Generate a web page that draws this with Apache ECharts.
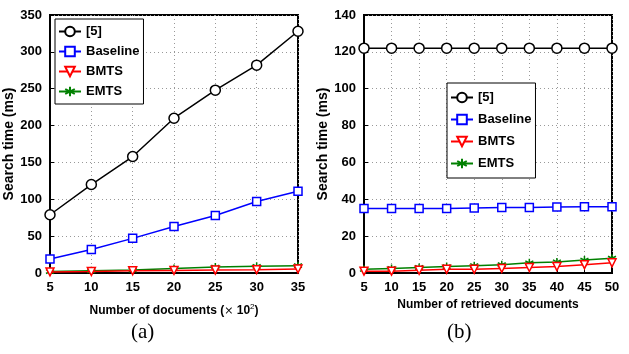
<!DOCTYPE html>
<html><head><meta charset="utf-8">
<script src="https://cdn.jsdelivr.net/npm/echarts@6/dist/echarts.min.js"></script>
<style>html,body{margin:0;padding:0;background:#fff}#c{width:629px;height:354px}</style>
</head><body><div id="c"></div>
<script>
// ---- data ----
const seriesNames = ['[5]', 'Baseline', 'BMTS', 'EMTS'];
const xA = [5, 10, 15, 20, 25, 30, 35];
const a_ref5 = [79, 120, 158, 210, 248, 282, 328];
const a_baseline = [19, 32, 47, 63, 78, 97, 111];
const a_bmts = [1.5, 2, 3, 3.5, 4, 4.5, 5.5];
const a_emts = [2, 3, 4, 6, 8, 9, 10];
const xB = [5, 10, 15, 20, 25, 30, 35, 40, 45, 50];
const b_ref5 = [122, 122, 122, 122, 122, 122, 122, 122, 122, 122];
const b_baseline = [35, 35, 35, 35, 35.3, 35.5, 35.5, 35.8, 36, 36];
const b_bmts = [1, 1, 1.5, 2, 2, 2.5, 3, 3.5, 4.5, 5.5];
const b_emts = [2, 2.5, 3, 3.5, 4, 4.5, 5.5, 6, 7, 8];

const colors = ['#000000', '#0000ff', '#ff0000', '#008000'];
const symbols = ['circle', 'rect', 'triangle', 'path://M0,-10L0,10M-8.7,-5L8.7,5M-8.7,5L8.7,-5'];
const sizes = [10, 8, 8, 8];
const rot = [0, 0, 180, 0];
const FONT = 'Liberation Sans';

function mk(name, i, xs, ys, gi) {
  return {
    name, type: 'line', xAxisIndex: gi, yAxisIndex: gi,
    data: xs.map((x, k) => [x, ys[k]]),
    symbol: symbols[i], symbolSize: sizes[i], symbolRotate: rot[i],
    showAllSymbol: true,
    lineStyle: { color: colors[i], width: 1.5 },
    itemStyle: { color: i === 3 ? colors[i] : '#ffffff', borderColor: colors[i], borderWidth: 1.5 },
    z: 10 - i, animation: false
  };
}
const axisCommon = {
  axisLine: { show: true, lineStyle: { color: '#000', width: 2 } },
  axisTick: { inside: true, length: 4, lineStyle: { color: '#000' } },
  splitLine: { show: true, lineStyle: { color: '#999', type: [1, 3], width: 1 } },
  axisLabel: { color: '#000', fontFamily: FONT, fontWeight: 'bold', fontSize: 13 },
  nameTextStyle: { color: '#000', fontFamily: FONT, fontWeight: 'bold', fontSize: 12 }
};
const yName = { color: '#000', fontFamily: FONT, fontWeight: 'bold', fontSize: 14 };
const legText = { color: '#000', fontFamily: FONT, fontWeight: 'bold', fontSize: 13 };
const chart = echarts.init(document.getElementById('c'), null, { renderer: 'canvas' });
chart.setOption({
  animation: false,
  backgroundColor: '#fff',
  grid: [
    { left: 50, top: 15, width: 248, height: 258, show: true, borderColor: '#000', borderWidth: 2 },
    { left: 364, top: 15, width: 248, height: 258, show: true, borderColor: '#000', borderWidth: 2 }
  ],
  xAxis: [
    Object.assign({}, axisCommon, { gridIndex: 0, type: 'value', min: 5, max: 35, interval: 5,
      name: '{n|Number of documents (}{t|×}{n| 10}{s|2}{n|)}', nameLocation: 'middle', nameGap: 30,
      nameTextStyle: { rich: {
        n: { color: '#000', fontFamily: FONT, fontWeight: 'bold', fontSize: 12 },
        t: { color: '#000', fontFamily: 'DejaVu Serif', fontSize: 11 },
        s: { color: '#000', fontFamily: FONT, fontSize: 8, verticalAlign: 'top', padding: [0, 0, 8, 0] } } } }),
    Object.assign({}, axisCommon, { gridIndex: 1, type: 'value', min: 5, max: 50, interval: 5,
      name: 'Number of retrieved documents', nameLocation: 'middle', nameGap: 26 })
  ],
  yAxis: [
    Object.assign({}, axisCommon, { gridIndex: 0, type: 'value', min: 0, max: 350, interval: 50,
      name: 'Search time (ms)', nameLocation: 'middle', nameGap: 28, nameTextStyle: yName }),
    Object.assign({}, axisCommon, { gridIndex: 1, type: 'value', min: 0, max: 140, interval: 20,
      name: 'Search time (ms)', nameLocation: 'middle', nameGap: 28, nameTextStyle: yName })
  ],
  legend: [
    { data: seriesNames, left: 55, top: 19, orient: 'vertical', itemGap: 7, itemWidth: 22, itemHeight: 12,
      backgroundColor: '#fff', borderColor: '#000', borderWidth: 1, padding: [6, 4, 6, 3],
      textStyle: legText },
    { data: seriesNames, left: 447, top: 83, orient: 'vertical', itemGap: 9, itemWidth: 22, itemHeight: 12,
      backgroundColor: '#fff', borderColor: '#000', borderWidth: 1, padding: [8, 4, 8, 3],
      textStyle: legText }
  ],
  graphic: [
    { type: 'text', left: 131, top: 322, style: { text: '(a)', font: '21px "Liberation Serif"', fill: '#000' } },
    { type: 'text', left: 447, top: 322, style: { text: '(b)', font: '21px "Liberation Serif"', fill: '#000' } }
  ],
  series: [
    mk(seriesNames[0], 0, xA, a_ref5, 0),
    mk(seriesNames[1], 1, xA, a_baseline, 0),
    mk(seriesNames[2], 2, xA, a_bmts, 0),
    mk(seriesNames[3], 3, xA, a_emts, 0),
    mk(seriesNames[0], 0, xB, b_ref5, 1),
    mk(seriesNames[1], 1, xB, b_baseline, 1),
    mk(seriesNames[2], 2, xB, b_bmts, 1),
    mk(seriesNames[3], 3, xB, b_emts, 1)
  ]
});
</script></body></html>
